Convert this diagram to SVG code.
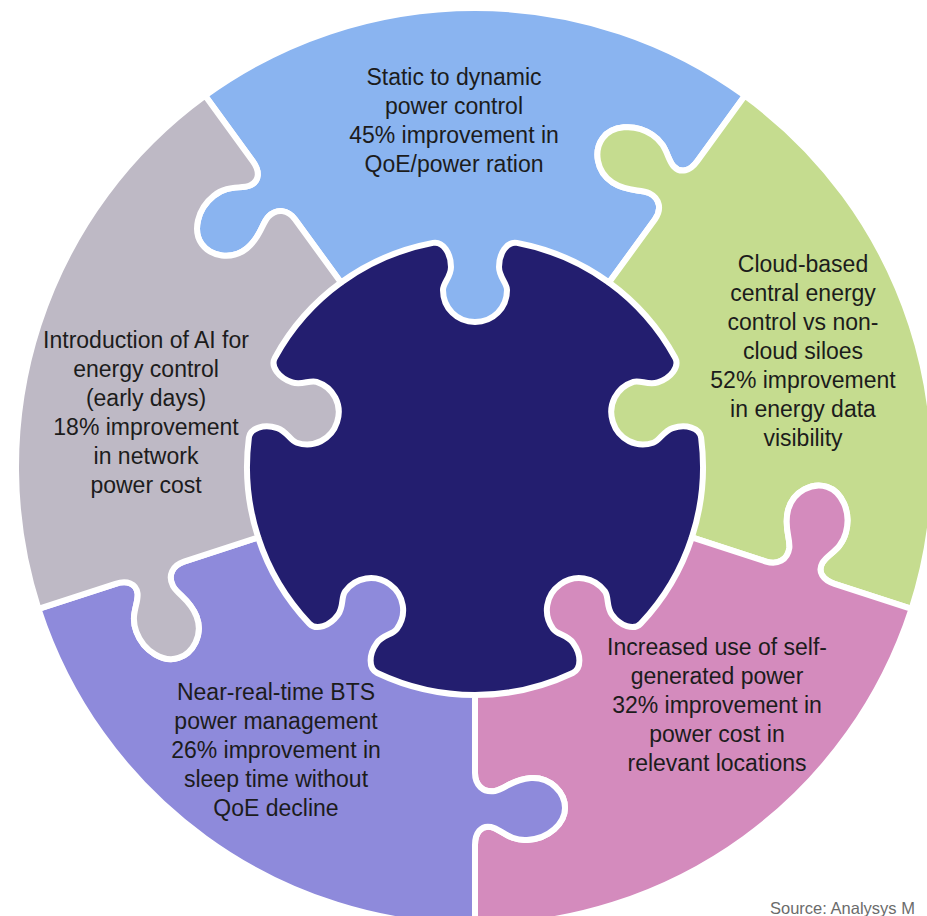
<svg xmlns="http://www.w3.org/2000/svg" xmlns:xlink="http://www.w3.org/1999/xlink" width="927" height="916" viewBox="0 0 927 916">
<style>
  .shape { stroke: #ffffff; stroke-width: 6; stroke-linejoin: round; }
  .blue .shape { fill: #8AB4F0; }
  .green .shape { fill: #C5DC8F; }
  .pink .shape { fill: #D48BBD; }
  .purple .shape { fill: #8E8ADB; }
  .gray .shape { fill: #BEB9C5; }
  .t { font-family: "Liberation Sans", Arial, sans-serif; font-size: 23px; fill: #1c1c1c; text-anchor: middle; }
  .src { font-family: "Liberation Sans", Arial, sans-serif; font-size: 16.5px; fill: #6b6b6b; }
</style>
<defs>
  <path id="piece" d="M 459,0 L 378,0 C 366,0 358,-6 360,-16 C 362,-26 374,-34 373,-52 C 372,-74 356,-90 341,-90 C 326,-90 310,-76 311,-56 C 312,-38 322,-30 324,-20 C 326,-8 318,0 306,0 L 228,0 A 228 228 0 0 1 205.99,97.74 C 201.69,106.73 187.24,106.37 175.91,98.14 C 167.82,92.26 167.67,82.26 162.01,78.15 C 147.44,67.57 127.89,70.67 117.31,85.23 C 106.73,99.79 109.82,119.35 124.39,129.93 C 130.05,134.04 139.60,131.10 147.69,136.98 C 159.02,145.21 163.83,158.83 156.61,165.70 A 228 228 0 0 1 70.46,216.84 L 94.56,291.02 C 98.27,302.44 108.35,307.57 119.14,301.96 C 128.03,296.97 132.55,284.99 149.36,278.47 C 168.08,271.34 186.34,282.23 190.97,296.50 C 195.61,310.77 185.33,330.92 164.71,338.67 C 147.91,345.18 136.59,336.25 126.47,337.44 C 116.34,338.63 113.10,348.09 116.81,359.50 L 141.84,436.53 A 459 459 0 0 0 459,0 Z"/>
</defs>

<g id="center-piece">
  <circle cx="475" cy="467" r="229" fill="#231E6F"/>
</g>

<g id="piece-blue" class="blue">
  <use href="#piece" class="shape" transform="translate(475,467) rotate(234)"/>
  <text class="t" x="454" y="85">Static to dynamic</text>
  <text class="t" x="454" y="114">power control</text>
  <text class="t" x="454" y="143">45% improvement in</text>
  <text class="t" x="454" y="172">QoE/power ration</text>
</g>

<g id="piece-green" class="green">
  <use href="#piece" class="shape" transform="translate(475,467) rotate(306)"/>
  <text class="t" x="803" y="272">Cloud-based</text>
  <text class="t" x="803" y="301">central energy</text>
  <text class="t" x="803" y="330">control vs non-</text>
  <text class="t" x="803" y="359">cloud siloes</text>
  <text class="t" x="803" y="388">52% improvement</text>
  <text class="t" x="803" y="417">in energy data</text>
  <text class="t" x="803" y="446">visibility</text>
</g>

<g id="piece-pink" class="pink">
  <use href="#piece" class="shape" transform="translate(475,467) rotate(18)"/>
  <text class="t" x="717" y="655">Increased use of self-</text>
  <text class="t" x="717" y="684">generated power</text>
  <text class="t" x="717" y="713">32% improvement in</text>
  <text class="t" x="717" y="742">power cost in</text>
  <text class="t" x="717" y="771">relevant locations</text>
</g>

<g id="piece-purple" class="purple">
  <use href="#piece" class="shape" transform="translate(475,467) rotate(90)"/>
  <text class="t" x="276" y="700">Near-real-time BTS</text>
  <text class="t" x="276" y="729">power management</text>
  <text class="t" x="276" y="758">26% improvement in</text>
  <text class="t" x="276" y="787">sleep time without</text>
  <text class="t" x="276" y="816">QoE decline</text>
</g>

<g id="piece-gray" class="gray">
  <use href="#piece" class="shape" transform="translate(475,467) rotate(162)"/>
  <text class="t" x="146" y="348">Introduction of AI for</text>
  <text class="t" x="146" y="377">energy control</text>
  <text class="t" x="146" y="406">(early days)</text>
  <text class="t" x="146" y="435">18% improvement</text>
  <text class="t" x="146" y="464">in network</text>
  <text class="t" x="146" y="493">power cost</text>
</g>

<g id="connectors"></g>

<text class="src" x="770" y="914">Source: Analysys M</text>
</svg>
